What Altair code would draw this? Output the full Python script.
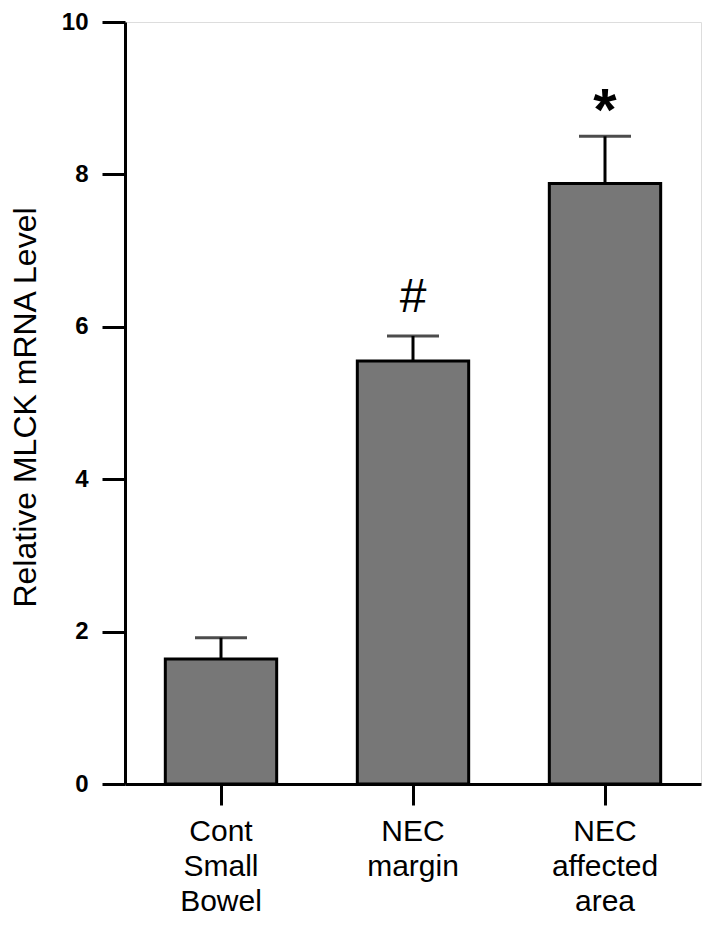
import altair as alt
import pandas as pd

categories = ["Cont Small Bowel", "NEC margin", "NEC affected area"]
means = [1.64, 5.55, 7.88]
errors = [0.28, 0.33, 0.62]
symbols = ["#", "*"]
symbol_cats = ["NEC margin", "NEC affected area"]
symbol_y = [6.19, 8.58]

df = pd.DataFrame({
    "cat": categories,
    "mean": means,
    "upper": [m + e for m, e in zip(means, errors)],
})
hash_df = pd.DataFrame({"cat": [symbol_cats[0]], "sym": [symbols[0]], "y": [symbol_y[0]]})
star_df = pd.DataFrame({"cat": [symbol_cats[1]], "sym": [symbols[1]], "y": [symbol_y[1]]})

narrow = "Liberation Sans Narrow, Liberation Sans, Arial, sans-serif"
sans = "Liberation Sans, Arial, sans-serif"

xs = alt.X("cat:N", sort=categories)
x = alt.X("cat:N", sort=categories, title=None,
          scale=alt.Scale(paddingInner=0.42, paddingOuter=0.21),
          axis=alt.Axis(labelAngle=0, labelExpr="split(datum.value, ' ')",
                        labelFont=sans, labelFontSize=30, labelColor="black",
                        labelLineHeight=35, labelPadding=11,
                        domainWidth=3, domainColor="black",
                        tickSize=21, tickWidth=3, tickColor="black"))
y = alt.Y("mean:Q", title="Relative MLCK mRNA Level",
          scale=alt.Scale(domain=[0, 10], nice=False, zero=True),
          axis=alt.Axis(values=[0, 2, 4, 6, 8, 10], grid=False, format="d",
                        labelFont=narrow, labelFontSize=24, labelFontWeight="bold",
                        labelColor="black", labelPadding=14,
                        domainWidth=3, domainColor="black",
                        tickSize=23, tickWidth=3, tickColor="black",
                        titleFont=sans, titleFontSize=32, titleFontWeight="normal",
                        titleColor="black", titleX=-83, titleY=385))

bars = alt.Chart(df).mark_bar(color="#777777", stroke="black", strokeWidth=3).encode(x=x, y=y)
err = alt.Chart(df).mark_rule(color="black", strokeWidth=3).encode(
    x=xs, y="mean:Q", y2="upper:Q")
cap = alt.Chart(df).mark_tick(color="black", thickness=3, size=52, orient="horizontal").encode(
    x=xs, y="upper:Q")
hash_txt = alt.Chart(hash_df).mark_text(fontSize=48, font=sans, color="black",
                                        baseline="alphabetic").encode(
    x=xs, y="y:Q", text="sym:N")
star_txt = alt.Chart(star_df).mark_text(fontSize=60, font=sans, fontWeight="bold",
                                        color="black", baseline="alphabetic").encode(
    x=xs, y="y:Q", text="sym:N")

chart = alt.layer(bars, err, cap, hash_txt, star_txt).properties(
    width=576, height=762,
    autosize=alt.AutoSizeParams(type="none"),
    padding={"left": 117, "top": 14, "right": 5, "bottom": 137},
).configure_view(stroke=None).configure(background="white")

chart.save("out.html", embed_options={"renderer": "svg", "actions": False})
